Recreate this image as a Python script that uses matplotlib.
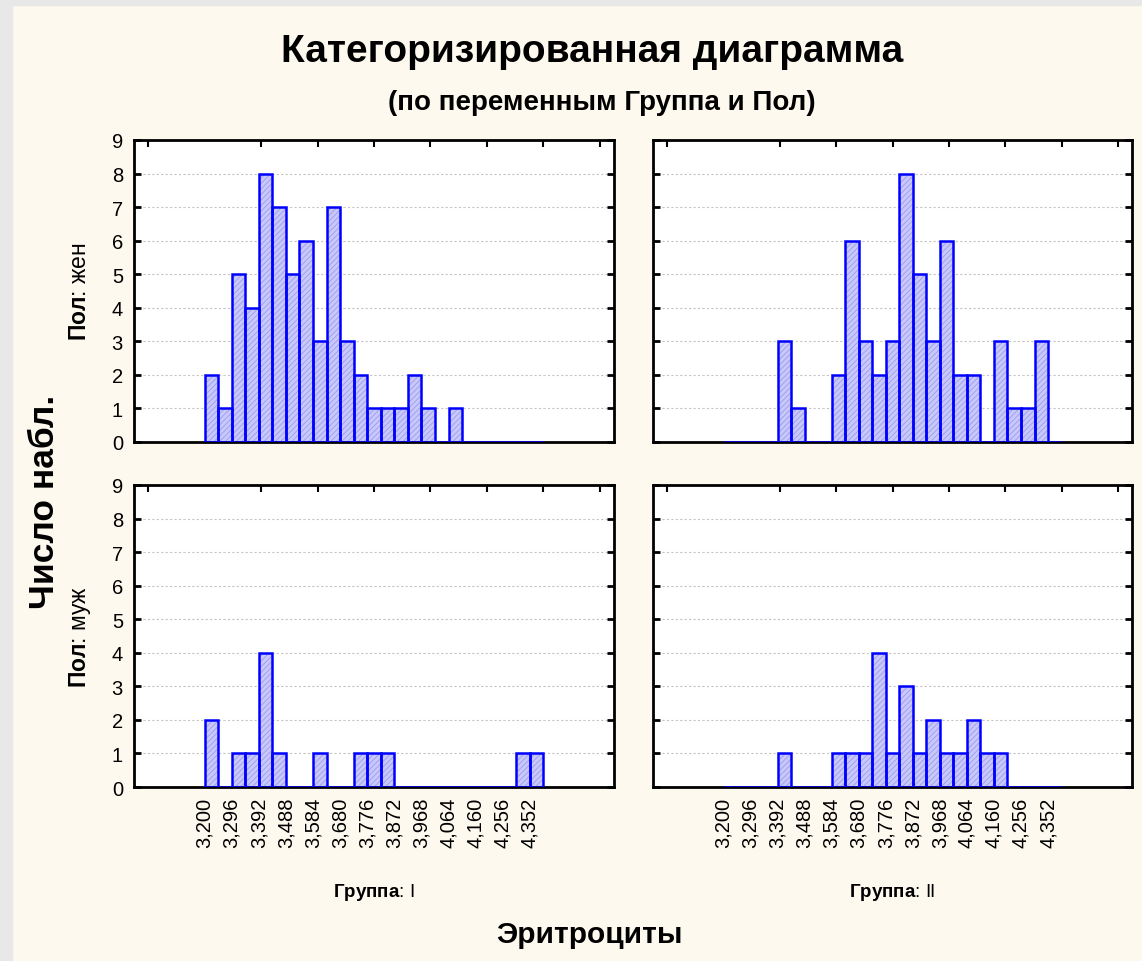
import numpy as np
import matplotlib.pyplot as plt
from matplotlib.patches import Rectangle

plt.rcParams['font.family'] = ['Liberation Sans', 'DejaVu Sans']
plt.rcParams['mathtext.fontset'] = 'custom'
plt.rcParams['mathtext.rm'] = 'Liberation Sans'
plt.rcParams['mathtext.bf'] = 'Liberation Sans:bold'
plt.rcParams['hatch.linewidth'] = 0.6

# histogram bins: 25 intervals of 0.048 starting at 3.200
bin_start = 3.2
bin_width = 0.048
n_bins = 25

# counts per bin (Группа x Пол)
counts_I_f = [2, 1, 5, 4, 8, 7, 5, 6, 3, 7, 3, 2, 1, 1, 1, 2, 1, 0, 1, 0, 0, 0, 0, 0, 0]
counts_II_f = [0, 0, 0, 0, 3, 1, 0, 0, 2, 6, 3, 2, 3, 8, 5, 3, 6, 2, 2, 0, 3, 1, 1, 3, 0]
counts_I_m = [2, 0, 1, 1, 4, 1, 0, 0, 1, 0, 0, 1, 1, 1, 0, 0, 0, 0, 0, 0, 0, 0, 0, 1, 1]
counts_II_m = [0, 0, 0, 0, 1, 0, 0, 0, 1, 1, 1, 4, 1, 3, 1, 2, 1, 1, 2, 1, 1, 0, 0, 0, 0]

tick_labels = ['3,200', '3,296', '3,392', '3,488', '3,584', '3,680', '3,776',
               '3,872', '3,968', '4,064', '4,160', '4,256', '4,352']
group_labels = ['I', 'II']
sex_labels = ['жен', 'муж']

edges = bin_start + bin_width * np.arange(n_bins)
label_pos = bin_start + 2 * bin_width * np.arange(len(tick_labels))

W, H = 1142, 962
fig = plt.figure(figsize=(W / 100, H / 100), dpi=100)
fig.patch.set_facecolor('#fef9ee')
# grey frame strips on the left and top
fig.patches.append(Rectangle((0, 0), 12 / W, 1, transform=fig.transFigure,
                             color='#e8e8e8', zorder=0))
fig.patches.append(Rectangle((0, 1 - 6 / H), 1, 6 / H, transform=fig.transFigure,
                             color='#e8e8e8', zorder=0))

lefts = [134, 653]
widths = [480, 479]
tops = [141, 486]
ph = 302

data = [[counts_I_f, counts_II_f], [counts_I_m, counts_II_m]]

for r in range(2):
    for c in range(2):
        ax = fig.add_axes([lefts[c] / W, 1 - (tops[r] + ph) / H, widths[c] / W, ph / H])
        ax.set_facecolor('white')
        vals = data[r][c]
        ax.bar(edges, vals, width=bin_width, align='edge', color='#c8c8fc',
               edgecolor='#9c9ce8', hatch='//////', linewidth=0, zorder=2)
        ax.bar(edges, vals, width=bin_width, align='edge', fill=False,
               edgecolor='#0000ff', linewidth=1.8, zorder=3)
        ax.set_xlim(2.95, 4.65)
        ax.set_ylim(0, 9)
        ax.set_yticks(range(10))
        for y in range(1, 9):
            ax.axhline(y, color='#c4c4c4', lw=0.8, ls=(0, (2, 2)), zorder=1)
        ax.set_xticks(label_pos)
        ax.set_xticks(np.arange(3.0, 4.61, 0.2), minor=True)
        ax.tick_params(axis='x', which='major', length=0, pad=7, labelsize=14.5,
                       labelrotation=90)
        ax.tick_params(axis='x', which='minor', top=True, bottom=False,
                       direction='in', length=5, width=1.5)
        ax.tick_params(axis='y', left=True, right=True, direction='in',
                       length=5, width=2, labelsize=14.5, pad=8)
        if r == 1:
            ax.set_xticklabels(tick_labels)
        else:
            ax.set_xticklabels([])
        if c == 1:
            ax.set_yticklabels([])
        for s in ax.spines.values():
            s.set_linewidth(2)
            s.set_color('black')

# row and column category labels
for r in range(2):
    yc = 1 - (tops[r] + ph / 2) / H
    fig.text(80 / W, yc, r'$\mathbf{Пол}$: ' + sex_labels[r], rotation=90,
             ha='center', va='center', fontsize=16.5)
for c in range(2):
    xc = (lefts[c] + widths[c] / 2) / W
    fig.text(xc, 1 - 893 / H, r'$\mathbf{Группа}$: ' + group_labels[c],
             ha='center', va='center', fontsize=13.5)

fig.text(592 / W, 1 - 52 / H, 'Категоризированная диаграмма', ha='center',
         va='center', fontsize=28, fontweight='bold')
fig.text(602 / W, 1 - 103 / H, '(по переменным Группа и Пол)', ha='center',
         va='center', fontsize=20, fontweight='bold')
fig.text(589 / W, 1 - 935 / H, 'Эритроциты', ha='center', va='center',
         fontsize=21.5, fontweight='bold')
fig.text(45 / W, 1 - 502 / H, 'Число набл.', rotation=90, ha='center',
         va='center', fontsize=25.5, fontweight='bold')

fig.savefig('out.png', dpi=100, facecolor=fig.get_facecolor())
